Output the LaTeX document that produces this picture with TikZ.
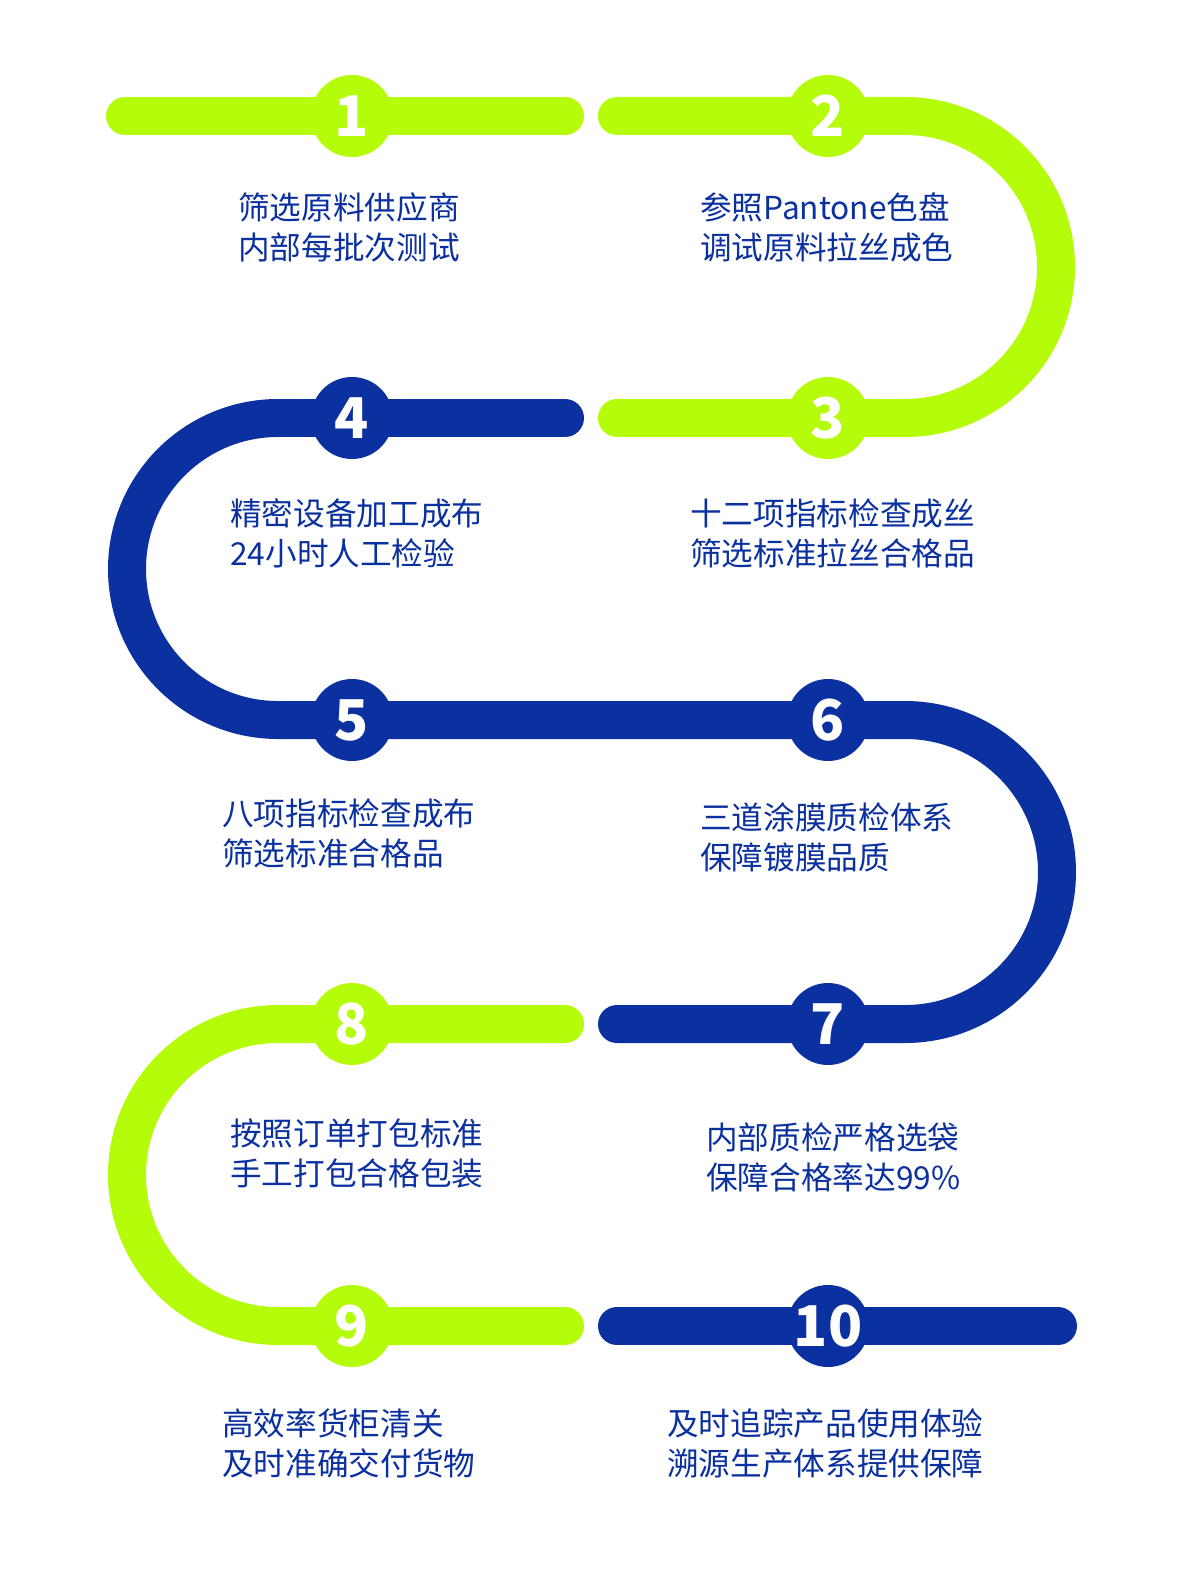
\documentclass[tikz,border=0pt]{standalone}
\usepackage{fontspec}
\newfontfamily\cjk{Noto Sans CJK SC}
\definecolor{lime}{HTML}{B4FC0A}
\definecolor{navy}{HTML}{0B30A0}
\tikzset{
  track/.style={line width=0.76cm,line cap=round},
  badge/.style={circle,fill=#1,minimum size=1.64cm,inner sep=0pt,text=white,font=\cjk\bfseries\fontsize{32}{32}\selectfont},
  caption/.style={align=left,text=navy,inner sep=0pt,font=\cjk\fontsize{18}{23}\selectfont,anchor=north west}
}
\begin{document}
\begin{tikzpicture}[x=0.02cm,y=-0.02cm]
\useasboundingbox[fill=white] (0,0) rectangle (1200,1584);
\draw[track,lime] (125,116) -- (565,116);
\draw[track,lime] (617,116) -- (905,116) arc[start angle=-90,end angle=90,radius=151] -- (617,418);
\draw[track,navy] (565,418) -- (278,418) arc[start angle=-90,end angle=-270,radius=151] -- (905,720) arc[start angle=-90,end angle=90,radius=152] -- (617,1024);
\draw[track,lime] (565,1024) -- (278,1024) arc[start angle=-90,end angle=-270,radius=151] -- (565,1326);
\draw[track,navy] (617,1326) -- (1058,1326);
\foreach \n/\x/\y/\c in {1/352/116/lime,2/828/116/lime,3/828/418/lime,4/352/418/navy,5/352/720/navy,6/828/720/navy,7/828/1024/navy,8/352/1024/lime,9/352/1326/lime,10/828/1326/navy}
  \node[badge=\c] (b\n) at (\x,\y) {\n};
\node[caption] (t1) at (238,192) {筛选原料供应商\\内部每批次测试};
\node[caption] (t2) at (700,192) {参照Pantone色盘\\调试原料拉丝成色};
\node[caption] (t3) at (690,498) {十二项指标检查成丝\\筛选标准拉丝合格品};
\node[caption] (t4) at (230,498) {精密设备加工成布\\24小时人工检验};
\node[caption] (t5) at (222,798) {八项指标检查成布\\筛选标准合格品};
\node[caption] (t6) at (700,802) {三道涂膜质检体系\\保障镀膜品质};
\node[caption] (t7) at (706,1122) {内部质检严格选袋\\保障合格率达99\%};
\node[caption] (t8) at (230,1118) {按照订单打包标准\\手工打包合格包装};
\node[caption] (t9) at (222,1408) {高效率货柜清关\\及时准确交付货物};
\node[caption] (t10) at (667,1408) {及时追踪产品使用体验\\溯源生产体系提供保障};
\end{tikzpicture}
\end{document}
